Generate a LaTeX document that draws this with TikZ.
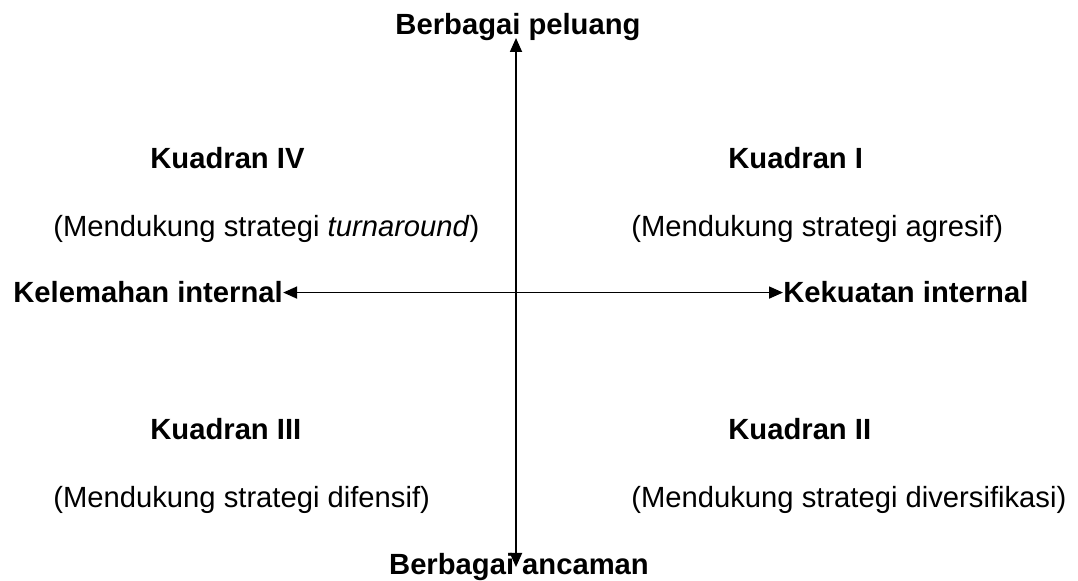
\documentclass[tikz,border=0pt]{standalone}
\usepackage{fontspec}
\setmainfont{Liberation Sans}
\usetikzlibrary{arrows.meta,positioning}
\tikzset{
  axisarrow/.style={{Triangle[length=7pt,width=6pt]}-{Triangle[length=7pt,width=6pt]},
    line width=0.9pt, draw=black},
  axislabel/.style={font=\fontsize{14.6}{17}\selectfont\bfseries, inner sep=0pt},
  quadtitle/.style={font=\fontsize{14.6}{17}\selectfont\bfseries, inner sep=0pt,
    anchor=base west},
  quadnote/.style={font=\fontsize{14.6}{17}\selectfont, inner sep=0pt,
    anchor=base west}
}

\begin{document}
\begin{tikzpicture}[x=0.5pt,y=-0.5pt]
    \useasboundingbox (0,0) rectangle (1078,581);

    % axis labels
    \node[axislabel, anchor=base] (peluang) at (518,35) {Berbagai peluang};
    \node[axislabel, anchor=base] (ancaman) at (519,575) {Berbagai ancaman};
    \node[axislabel, anchor=base west] (lemah) at (13,303) {Kelemahan internal};
    \node[axislabel, anchor=base west] (kuat) at (783,303) {Kekuatan internal};

    \coordinate (ytop) at (516,38);
    \coordinate (ybot) at (516,567);

    % quadrants
    \node[quadtitle] (q4) at (150,169) {Kuadran IV};
    \node[quadnote] (q4note) at (53,237) {(Mendukung strategi \textit{turnaround})};
    \node[quadtitle] (q1) at (728,169) {Kuadran I};
    \node[quadnote] (q1note) at (631,237) {(Mendukung strategi agresif)};
    \node[quadtitle] (q3) at (150,440) {Kuadran III};
    \node[quadnote] (q3note) at (53,508) {(Mendukung strategi difensif)};
    \node[quadtitle] (q2) at (728,440) {Kuadran II};
    \node[quadnote] (q2note) at (631,508) {(Mendukung strategi diversifikasi)};

    \draw[axisarrow] (ybot) -- (ytop);
    \draw[axisarrow] (lemah.east) -- (kuat.west);
\end{tikzpicture}
\end{document}
